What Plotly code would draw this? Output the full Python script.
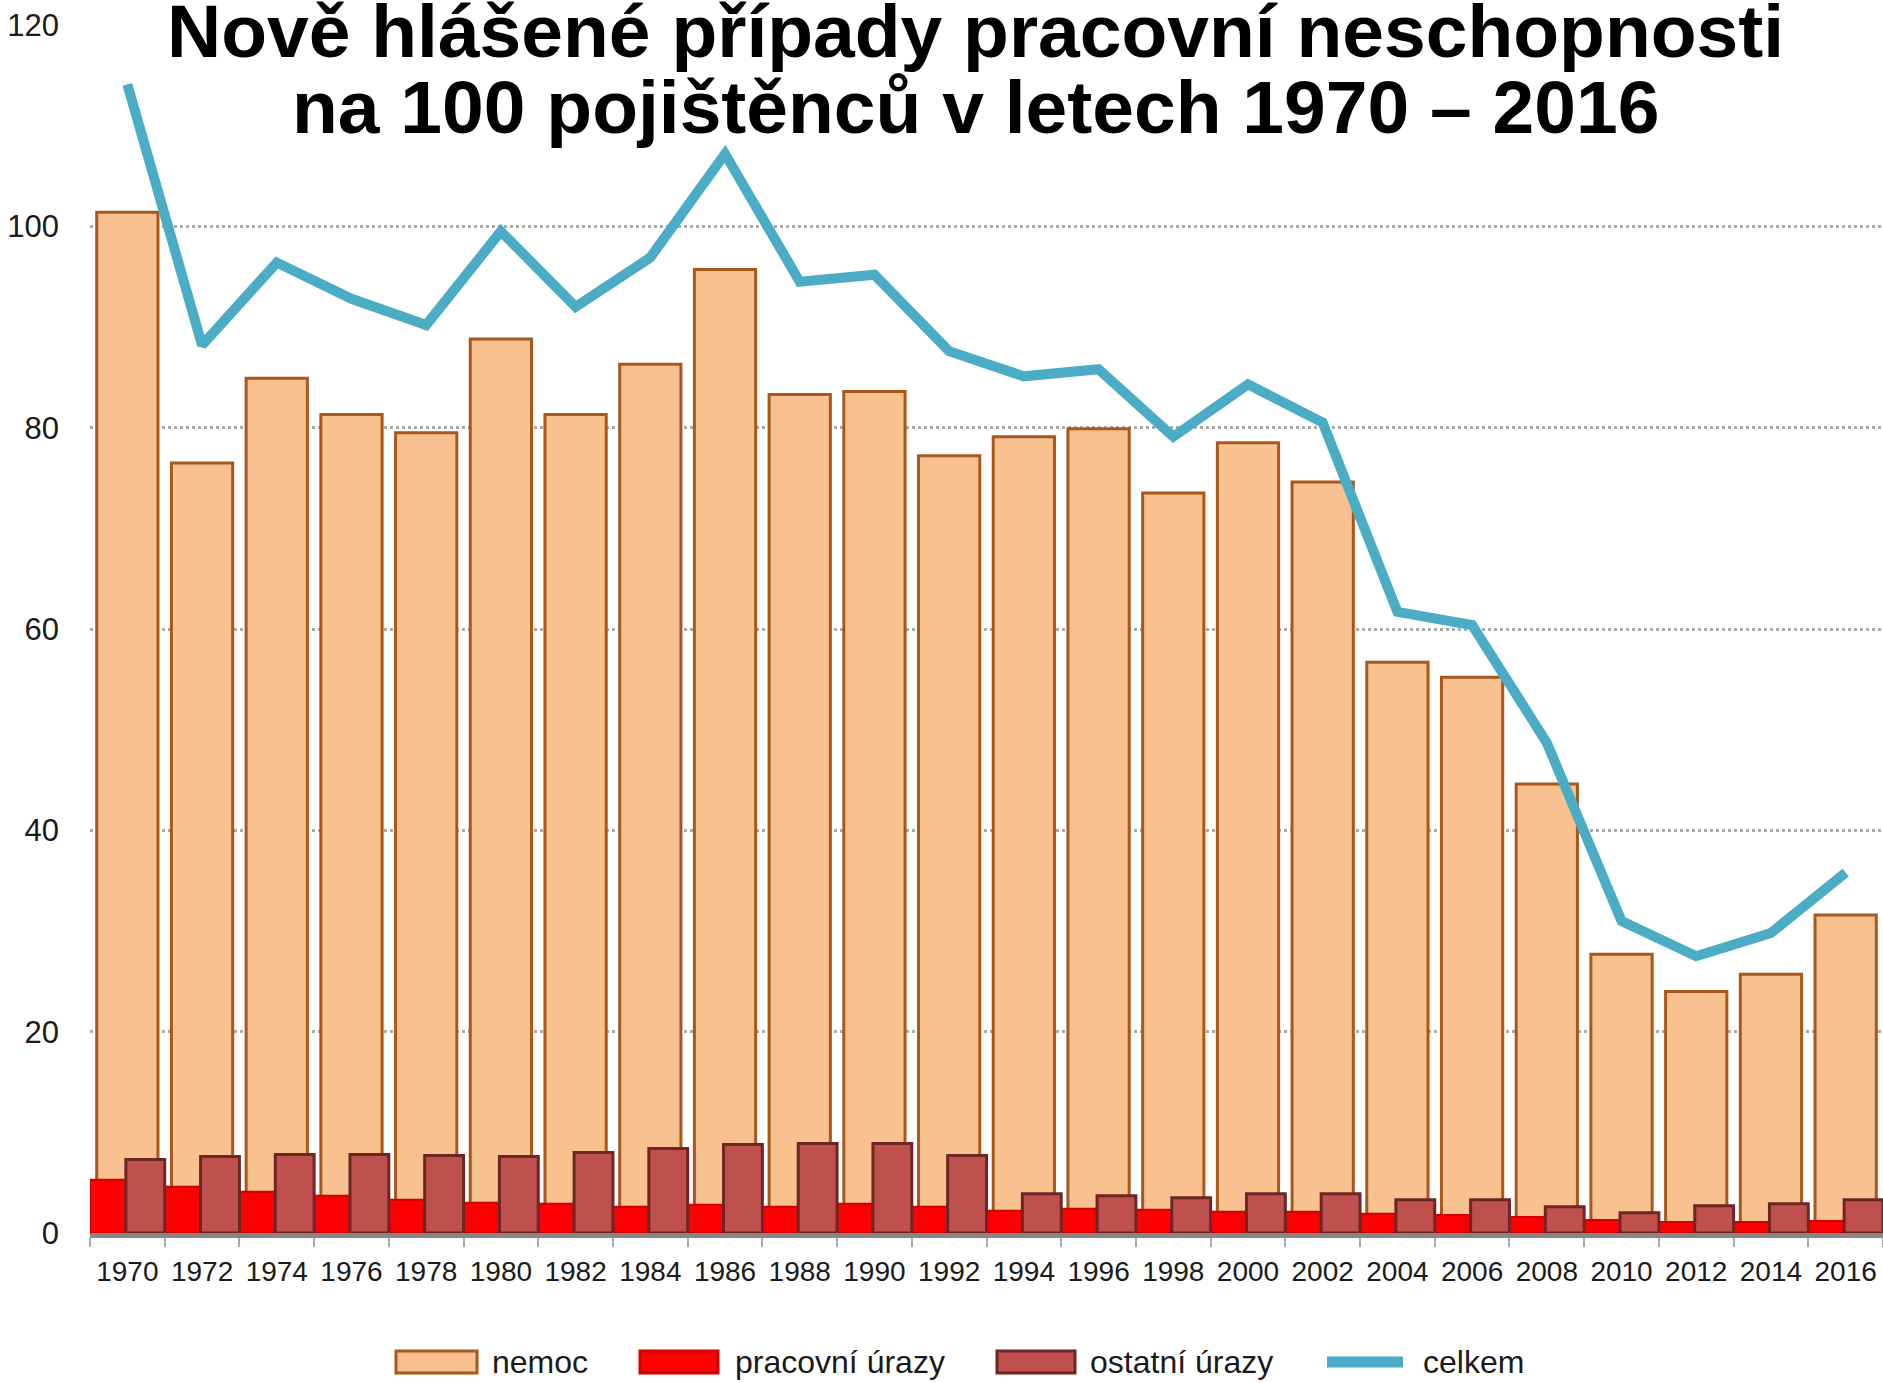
import plotly.graph_objects as go

years = ["1970", "1972", "1974", "1976", "1978", "1980", "1982", "1984", "1986", "1988", "1990", "1992",
         "1994", "1996", "1998", "2000", "2002", "2004", "2006", "2008", "2010", "2012", "2014", "2016"]
nemoc = [101.4, 76.5, 84.9, 81.3, 79.5, 88.8, 81.3, 86.3, 95.7, 83.3, 83.6, 77.2,
         79.1, 79.9, 73.5, 78.5, 74.6, 56.7, 55.2, 44.6, 27.7, 24.0, 25.7, 31.6]
pracovni = [5.3, 4.6, 4.1, 3.7, 3.3, 3.0, 2.9, 2.6, 2.8, 2.6, 2.9, 2.6,
            2.2, 2.4, 2.3, 2.1, 2.1, 1.9, 1.8, 1.6, 1.3, 1.1, 1.1, 1.2]
ostatni = [7.3, 7.6, 7.8, 7.8, 7.7, 7.6, 8.0, 8.4, 8.8, 8.9, 8.9, 7.7,
           3.9, 3.7, 3.5, 3.9, 3.9, 3.3, 3.3, 2.6, 2.0, 2.7, 2.9, 3.3]
celkem = [114.1, 88.2, 96.4, 92.8, 90.2, 99.5, 92.0, 96.9, 107.2, 94.5, 95.2, 87.6,
          85.1, 85.8, 79.1, 84.3, 80.5, 61.7, 60.4, 48.7, 31.0, 27.5, 29.8, 35.8]
yticks = [0, 20, 40, 60, 80, 100, 120]
title_lines = ["Nově hlášené případy pracovní neschopnosti",
               "na 100 pojištěnců v letech 1970 – 2016"]
legend_names = ["nemoc", "pracovní úrazy", "ostatní úrazy", "celkem"]

C_NEMOC, C_NEMOC_LINE = "#F9C190", "#A8581C"
C_PRAC, C_PRAC_LINE = "#FF0000", "#D00000"
C_OST, C_OST_LINE = "#C0504D", "#6E2624"
C_CELK = "#4BACC6"

SANS = "Liberation Sans, Arial, sans-serif"

W, H = 1883, 1383
L, R, T, B = 90, 0, 25, 150
pw, ph = W - L - R, H - T - B


def xp(px):
    return (px - L) / pw


def yp(py):
    return (H - B - py) / ph


fig = go.Figure()
fig.add_bar(x=years, y=nemoc, name=legend_names[0], width=0.82, offset=-0.41,
            marker=dict(color=C_NEMOC, line=dict(color=C_NEMOC_LINE, width=3)), showlegend=False)
fig.add_bar(x=years, y=pracovni, name=legend_names[1], width=0.49, offset=-0.5,
            marker=dict(color=C_PRAC, line=dict(color=C_PRAC_LINE, width=2)), showlegend=False)
fig.add_bar(x=years, y=ostatni, name=legend_names[2], width=0.52, offset=-0.02,
            marker=dict(color=C_OST, line=dict(color=C_OST_LINE, width=3)), showlegend=False)
fig.add_scatter(x=years, y=celkem, name=legend_names[3], mode="lines",
                line=dict(color=C_CELK, width=10), showlegend=False)

fig.update_layout(
    width=W, height=H, barmode="overlay",
    margin=dict(l=L, r=R, t=T, b=B, pad=0, autoexpand=False),
    paper_bgcolor="white", plot_bgcolor="white",
    font=dict(family=SANS, color="#1a1a1a"),
)
fig.update_xaxes(type="category", tickson="boundaries", ticks="outside", ticklen=9, tickwidth=2,
                 tickcolor="#aaaaaa", showline=True, linecolor="rgba(120,110,110,0.85)", linewidth=5,
                 showgrid=False, tickangle=0, automargin=False, ticklabelstandoff=9,
                 tickfont=dict(family=SANS, size=28, color="#1a1a1a"),
                 range=[-0.5, len(years) - 0.5])
fig.update_yaxes(range=[0, 120], tickvals=yticks, showgrid=True, gridcolor="#aaaaaa", gridwidth=2.5,
                 griddash="dot", zeroline=False, showline=False, ticks="", automargin=False,
                 ticklabelstandoff=30, tickfont=dict(family=SANS, size=31, color="#1a1a1a"))

# title
for txt, ypos in zip(title_lines, [31, 107]):
    fig.add_annotation(text=txt, xref="paper", yref="paper", x=xp(975), y=yp(ypos),
                       xanchor="center", yanchor="middle", showarrow=False,
                       font=dict(family=SANS, size=75, color="black", weight="bold"))

# custom legend
leg_y = 1362
swatches = [(396, 477, 490, C_NEMOC, C_NEMOC_LINE, "rect"),
            (640, 718, 733, C_PRAC, C_PRAC_LINE, "rect"),
            (997, 1075, 1088, C_OST, C_OST_LINE, "rect"),
            (1327, 1403, 1421, C_CELK, C_CELK, "line")]
for name, (x0, x1, xt, fc, lc, kind) in zip(legend_names, swatches):
    if kind == "rect":
        fig.add_shape(type="rect", xref="paper", yref="paper", x0=xp(x0), x1=xp(x1),
                      y0=yp(leg_y - 11), y1=yp(leg_y + 11), fillcolor=fc,
                      line=dict(color=lc, width=3))
    else:
        fig.add_shape(type="line", xref="paper", yref="paper", x0=xp(x0), x1=xp(x1),
                      y0=yp(leg_y), y1=yp(leg_y), line=dict(color=fc, width=11))
    fig.add_annotation(text=name, xref="paper", yref="paper", x=xp(xt), y=yp(leg_y),
                       xanchor="left", yanchor="middle", showarrow=False,
                       font=dict(family=SANS, size=32, color="#1a1a1a"))

fig.write_html("out.html", config={"displayModeBar": False},
               post_script="document.body.style.margin='0';document.body.style.overflow='hidden';")
